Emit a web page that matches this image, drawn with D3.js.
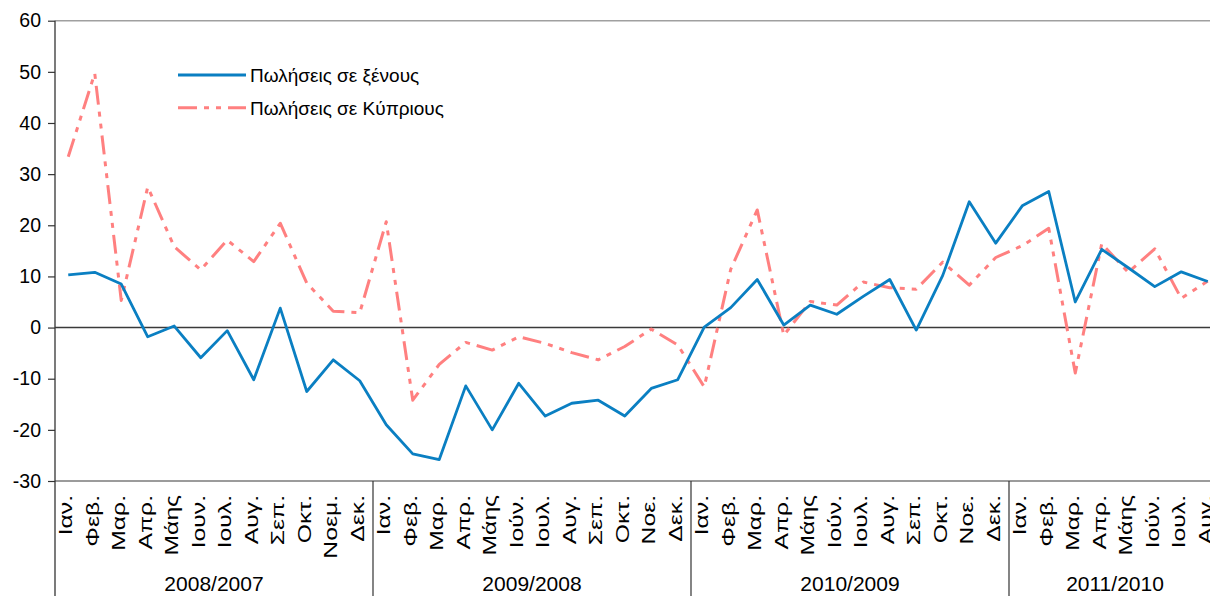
<!DOCTYPE html>
<html>
<head>
<meta charset="utf-8">
<script src="https://cdn.jsdelivr.net/npm/d3@7"></script>
<style>
  html, body { margin: 0; padding: 0; background: #fff; }
  svg { display: block; font-family: "Liberation Sans", Arial, sans-serif; }
</style>
</head>
<body>
<svg id="chart" width="1210" height="596"></svg>
<script>
// Period groups and month labels (the last period runs to August)
const years = ["2008/2007", "2009/2008", "2010/2009", "2011/2010"];
const monthsByYear = [
  ["Ιαν.", "Φεβ.", "Μαρ.", "Απρ.", "Μάης", "Ιουν.", "Ιουλ.", "Αυγ.", "Σεπ.", "Οκτ.", "Νοεμ.", "Δεκ."],
  ["Ιαν.", "Φεβ.", "Μαρ.", "Απρ.", "Μάης", "Ιούν.", "Ιουλ.", "Αυγ.", "Σεπ.", "Οκτ.", "Νοε.", "Δεκ."],
  ["Ιαν.", "Φεβ.", "Μαρ.", "Απρ.", "Μάης", "Ιούν.", "Ιουλ.", "Αυγ.", "Σεπ.", "Οκτ.", "Νοε.", "Δεκ."],
  ["Ιαν.", "Φεβ.", "Μαρ.", "Απρ.", "Μάης", "Ιούν.", "Ιουλ.", "Αυγ."]
];

// Year-on-year change (%)
const salesForeigners = [
  10.3, 10.8, 8.5, -1.8, 0.3, -5.9, -0.6, -10.2, 3.8, -12.5, -6.3, -10.4,
  -19.0, -24.7, -25.8, -11.4, -20.0, -10.9, -17.3, -14.8, -14.2, -17.3, -11.9, -10.2,
  0.1, 3.9, 9.4, 0.5, 4.4, 2.6, 6.1, 9.4, -0.5, 10.2, 24.6, 16.5,
  23.8, 26.6, 5.0, 15.3, 11.7, 8.0, 10.9, 9.0
];
const salesCypriots = [
  33.4, 49.7, 5.3, 27.5, 15.8, 11.3, 17.1, 12.9, 20.4, 8.7, 3.2, 2.9,
  20.7, -14.2, -7.2, -2.9, -4.4, -1.8, -3.1, -4.9, -6.3, -3.7, -0.3, -3.4,
  -11.6, 11.4, 23.0, -1.5, 5.1, 4.4, 8.9, 7.8, 7.5, 12.8, 8.3, 13.7,
  16.0, 19.4, -8.9, 16.4, 10.8, 15.4, 5.7, 9.1
];
const yTicks = [-30, -20, -10, 0, 10, 20, 30, 40, 50, 60];
const seriesNames = ["Πωλήσεις σε ξένους", "Πωλήσεις σε Κύπριους"];

const W = 1210, H = 596;
const svg = d3.select("#chart");

const categories = [];
monthsByYear.forEach((ms, g) => ms.forEach((m, k) => categories.push({ id: g + "-" + k, label: m, group: g })));

const left = 55, step = 26.5;
const x = d3.scaleBand()
  .domain(categories.map(d => d.id))
  .range([left, left + step * categories.length])
  .paddingInner(0).paddingOuter(0);
const y = d3.scaleLinear().domain([-30, 60]).range([481, 20.7]);
const cx = i => x(categories[i].id) + x.bandwidth() / 2;

const blue = "#0a7fc2", pink = "#ff8080";
const dashPattern = "19,7,5,7,5,7";

// Frame lines at the top and bottom of the value range
svg.append("line").attr("x1", left).attr("x2", W).attr("y1", y(60)).attr("y2", y(60))
  .attr("stroke", "#a0a0a0").attr("stroke-width", 1.6);
svg.append("line").attr("x1", left).attr("x2", W).attr("y1", y(-30)).attr("y2", y(-30))
  .attr("stroke", "#7a7a7a").attr("stroke-width", 1.4);

// Value axis
const yAxis = d3.axisLeft(y).tickValues(yTicks).tickSize(7).tickPadding(7).tickFormat(d => String(d));
const ya = svg.append("g").attr("transform", `translate(${left},0)`).call(yAxis);
ya.select(".domain").remove();
ya.selectAll(".tick line").attr("stroke", "#333").attr("stroke-width", 1.2);
ya.selectAll(".tick text").attr("font-size", 19.5).attr("fill", "#000")
  .attr("font-family", "'Liberation Sans', Arial, sans-serif");
svg.append("line").attr("x1", left).attr("x2", left).attr("y1", y(60)).attr("y2", H)
  .attr("stroke", "#333").attr("stroke-width", 1.3);

// Zero line
svg.append("line").attr("x1", left).attr("x2", W).attr("y1", y(0)).attr("y2", y(0))
  .attr("stroke", "#3a3a3a").attr("stroke-width", 1.5);

// Category axis: month labels rotated, period labels beneath
const xa = svg.append("g");
xa.selectAll("text.month").data(categories).join("text")
  .attr("class", "month")
  .attr("transform", (d, i) => `translate(${cx(i) + 4},${y(-30) + 14}) rotate(-90) scale(1.3,1)`)
  .attr("text-anchor", "end")
  .attr("font-size", 19)
  .attr("fill", "#000")
  .text(d => d.label);

let start = 0;
const groupBounds = monthsByYear.map(ms => { const b = [start, start + ms.length]; start += ms.length; return b; });
xa.selectAll("line.sep").data(groupBounds.slice(1)).join("line")
  .attr("class", "sep")
  .attr("x1", d => x(categories[d[0]].id)).attr("x2", d => x(categories[d[0]].id))
  .attr("y1", y(-30)).attr("y2", H)
  .attr("stroke", "#333").attr("stroke-width", 1.2);
xa.selectAll("text.year").data(groupBounds).join("text")
  .attr("class", "year")
  .attr("x", d => left + step * (d[0] + d[1]) / 2)
  .attr("y", 591)
  .attr("text-anchor", "middle")
  .attr("font-size", 21)
  .attr("fill", "#000")
  .text((d, i) => years[i]);

// Series lines
const line = d3.line().x((d, i) => cx(i)).y(d => y(d));
svg.append("path").datum(salesCypriots)
  .attr("d", line).attr("fill", "none")
  .attr("stroke", pink).attr("stroke-width", 3)
  .attr("stroke-dasharray", dashPattern).attr("stroke-linejoin", "round");
svg.append("path").datum(salesForeigners)
  .attr("d", line).attr("fill", "none")
  .attr("stroke", blue).attr("stroke-width", 2.8).attr("stroke-linejoin", "round");

// Legend
const legend = svg.append("g").attr("transform", "translate(178,75)");
[[blue, null, 2.8], [pink, dashPattern, 3]].forEach((s, i) => {
  const g = legend.append("g").attr("transform", `translate(0,${i * 32.7})`);
  g.append("line").attr("x1", 0).attr("x2", 68).attr("y1", 0).attr("y2", 0)
    .attr("stroke", s[0]).attr("stroke-width", s[2])
    .attr("stroke-dasharray", s[1]);
  g.append("text").attr("x", 72).attr("y", 7).attr("font-size", 19)
    .attr("fill", "#000").text(seriesNames[i]);
});
</script>
</body>
</html>
